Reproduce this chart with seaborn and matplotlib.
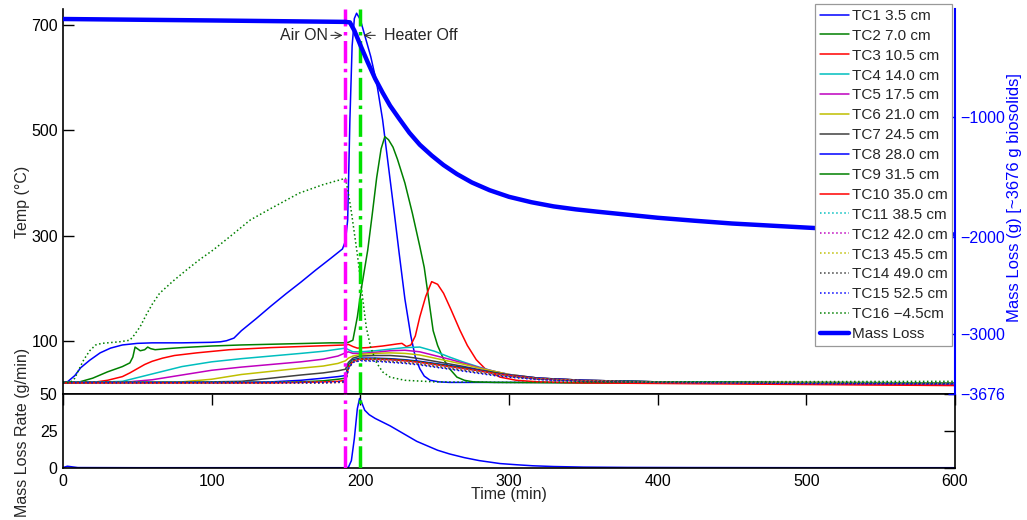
import matplotlib
matplotlib.use("Agg")
import numpy as np
import matplotlib.pyplot as plt
import seaborn as sns

# ---------------- data ----------------
# TC1 3.5 cm (blue, big spike right after air on)
tc1_time = [0, 3, 8, 12, 18, 25, 32, 40, 50, 60, 80, 100, 106, 110, 115, 120, 130, 140, 150, 160,
            170, 180, 188, 190, 191.5, 193, 194.5, 196, 197.5, 200, 203, 207, 211, 215, 219, 223,
            226, 230, 234, 237, 240, 243, 247, 253, 260, 280, 320, 400, 500, 600]
tc1_temp = [22, 23, 35, 50, 64, 78, 87, 93, 96, 97, 97, 98, 99, 101, 106, 120, 143, 167, 190, 212,
            235, 257, 275, 290, 330, 520, 660, 712, 722, 710, 680, 640, 590, 520, 430, 340,
            270, 180, 110, 70, 48, 34, 26, 23, 22, 22, 22, 21, 21, 21]

# TC2 7.0 cm (green)
tc2_time = [0, 10, 20, 30, 40, 45, 47, 48.5, 50, 52, 55, 57, 59, 62, 70, 80, 100, 120, 150, 180,
            190, 192, 195, 198, 201, 205, 208, 211, 214, 216.5, 219, 222, 225, 230, 235, 240, 243,
            246, 249, 252, 256, 260, 265, 270, 276, 290, 350, 450, 600]
tc2_temp = [22, 22, 30, 42, 52, 59, 70, 89, 86, 82, 84, 89, 86, 84, 86, 88, 91, 93, 95, 97,
            97, 98, 102, 146, 205, 273, 340, 410, 465, 488, 482, 468, 445, 400, 343, 280, 240,
            180, 120, 92, 66, 48, 32, 26, 23, 22, 21, 21, 21]

# TC3 10.5 cm (red, late peak)
tc3_time = [0, 20, 30, 40, 45, 50, 55, 60, 67, 75, 90, 112, 140, 170, 190, 192, 195, 198, 205, 215,
            225, 228, 231, 234, 237, 240, 244, 248, 252, 256, 261, 267, 272, 278, 285, 294, 305,
            320, 350, 450, 600]
tc3_temp = [21, 22, 26, 33, 40, 48, 56, 62, 68, 73, 78, 84, 88, 91, 93, 94, 90, 87, 88, 91,
            95, 96, 90, 93, 110, 146, 185, 213, 208, 191, 160, 121, 92, 65, 45, 32, 26,
            23, 21, 19, 16]

# TC16 -4.5 cm (green dotted)
tc16_time = [0, 5, 8, 11, 14, 18, 22, 26, 30, 38, 45, 48, 52, 56, 60, 65, 74, 83, 92, 101, 113,
             126, 140, 159, 175, 185, 190, 192, 194, 196, 198, 201, 204, 207, 211, 215, 220, 230,
             250, 300, 400, 600]
tc16_temp = [22, 22, 30, 48, 65, 82, 93, 96, 97, 99, 102, 112, 128, 150, 170, 191, 214, 235, 255,
             273, 300, 330, 352, 381, 397, 405, 409, 380, 345, 305, 265, 195, 127, 88, 59, 42, 32, 26,
             23, 22, 23, 24]

# shared time grid for the slower thermocouples
grid_time = [0, 20, 40, 60, 80, 100, 120, 140, 160, 175, 185, 190, 192, 195, 200, 210, 220, 230,
             240, 250, 260, 270, 280, 290, 300, 320, 350, 400, 500, 600]
tc4_temp = [22, 22, 24, 38, 52, 61, 67, 72, 77, 81, 85, 87, 84, 80, 80, 82, 85, 88, 89, 81, 70, 60,
            51, 43, 37, 30, 26, 23, 22, 21]
tc5_temp = [22, 22, 22, 27, 36, 45, 51, 56, 61, 66, 72, 78, 80, 77, 77, 79, 82, 83, 80, 73, 66, 58,
            50, 43, 37, 30, 26, 23, 22, 21]
tc6_temp = [22, 22, 22, 22, 23, 28, 37, 43, 49, 53, 58, 63, 68, 72, 75, 77, 78, 77, 74, 68, 62, 56,
            49, 43, 37, 30, 26, 23, 22, 21]
tc7_temp = [22, 22, 22, 22, 22, 23, 24, 30, 36, 40, 44, 47, 60, 68, 72, 73, 73, 71, 67, 62, 57, 52,
            46, 41, 36, 30, 26, 23, 21, 20]
tc8_temp = [22, 22, 22, 22, 22, 22, 22, 23, 26, 30, 33, 35, 55, 65, 68, 68, 67, 65, 62, 58, 54, 50,
            45, 40, 36, 30, 26, 23, 21, 20]
tc9_temp = [22, 22, 22, 22, 22, 22, 22, 22, 23, 25, 28, 30, 55, 64, 67, 67, 66, 64, 61, 57, 53, 49,
            44, 40, 35, 29, 25, 23, 21, 20]
tc10_temp = [21, 21, 21, 21, 21, 21, 21, 21, 22, 23, 24, 26, 50, 62, 66, 66, 65, 63, 60, 56, 52, 48,
             44, 39, 35, 29, 25, 22, 19, 17]
tc11_temp = [22, 22, 22, 22, 22, 22, 22, 22, 22, 22, 23, 24, 52, 63, 67, 66, 64, 62, 59, 55, 51, 47,
             43, 38, 34, 29, 25, 23, 21, 20]
tc12_temp = [21, 21, 21, 21, 21, 21, 21, 21, 21, 21, 22, 23, 50, 62, 66, 65, 63, 61, 58, 54, 50, 46,
             42, 38, 34, 28, 25, 22, 20, 18]
tc13_temp = [22, 22, 22, 22, 22, 22, 22, 22, 22, 22, 22, 23, 50, 61, 65, 64, 62, 60, 57, 53, 49, 45,
             41, 37, 33, 28, 25, 22, 21, 20]
tc14_temp = [21, 21, 21, 21, 21, 21, 21, 21, 21, 21, 22, 22, 48, 60, 64, 63, 61, 59, 56, 52, 48, 44,
             40, 36, 33, 28, 24, 22, 20, 19]
tc15_temp = [22, 22, 22, 22, 22, 22, 22, 22, 22, 22, 23, 24, 48, 60, 63, 62, 60, 58, 55, 51, 47, 43,
             39, 35, 32, 27, 24, 22, 20, 19]

# cumulative mass loss (right axis)
mass_time = [0, 100, 190, 193, 196, 200, 205, 210, 215, 220, 226, 233, 240, 248, 256, 265, 275,
             287, 300, 315, 330, 345, 360, 380, 400, 425, 450, 475, 500, 550, 600]
mass_loss = [20, 5, -10, -15, -100, -250, -430, -600, -745, -880, -1010, -1130, -1230, -1320, -1400,
             -1475, -1545, -1610, -1665, -1710, -1745, -1770, -1790, -1815, -1840, -1865, -1888,
             -1905, -1922, -1955, -1980]

# mass loss rate (lower panel)
rate_time = [0, 3, 6, 10, 50, 100, 150, 190, 192, 194, 196, 198, 199.5, 201, 203, 206, 210, 215, 220,
             226, 232, 238, 245, 252, 260, 270, 280, 294, 305, 316, 330, 350, 380, 420, 500, 600]
rate_vals = [0.3, 1.2, 0.8, 0.3, 0.2, 0.2, 0.2, 0.2, 0.5, 5, 20, 40, 47, 44, 39, 36, 33.5, 31, 28.5,
             25, 21.5, 18, 15, 12, 9.5, 7, 5, 3, 2.2, 1.5, 1.0, 0.6, 0.4, 0.3, 0.2, 0.2]

labels = ["TC1 3.5 cm", "TC2 7.0 cm", "TC3 10.5 cm", "TC4 14.0 cm", "TC5 17.5 cm", "TC6 21.0 cm",
          "TC7 24.5 cm", "TC8 28.0 cm", "TC9 31.5 cm", "TC10 35.0 cm", "TC11 38.5 cm",
          "TC12 42.0 cm", "TC13 45.5 cm", "TC14 49.0 cm", "TC15 52.5 cm", "TC16 \u22124.5cm"]
air_on, heater_off = 190, 200

# right axis tick spacing in the original is uneven -> piecewise scale through the ticks
mass_knots = [-5000, -3676, -3000, -2000, -1000, 0, 1000]
mass_frac = [-0.3, 0.0, 0.156, 0.408, 0.719, 0.969, 1.219]


def mass_fwd(v):
    return np.interp(v, mass_knots, mass_frac)


def mass_inv(f):
    return np.interp(f, mass_frac, mass_knots)


# ---------------- style ----------------
sns.set_style("white")
plt.rcParams["font.family"] = ["Liberation Sans", "DejaVu Sans"]
plt.rcParams["font.size"] = 11.5

colors = ["#0000FF", "#008000", "#FF0000", "#00BFBF", "#BF00BF", "#BFBF00", "#404040"]

series = [(tc1_time, tc1_temp), (tc2_time, tc2_temp), (tc3_time, tc3_temp),
          (grid_time, tc4_temp), (grid_time, tc5_temp), (grid_time, tc6_temp),
          (grid_time, tc7_temp), (grid_time, tc8_temp), (grid_time, tc9_temp),
          (grid_time, tc10_temp), (grid_time, tc11_temp), (grid_time, tc12_temp),
          (grid_time, tc13_temp), (grid_time, tc14_temp), (grid_time, tc15_temp),
          (tc16_time, tc16_temp)]

fig = plt.figure(figsize=(10.27, 5.2), dpi=100)
ax = fig.add_axes([0.0613, 0.2423, 0.8686, 0.7404])
axr = fig.add_axes([0.0613, 0.1, 0.8686, 0.1423])
ax2 = ax.twinx()

for i, (t, v) in enumerate(series):
    ls = "-" if i < 10 else ":"
    sns.lineplot(x=t, y=v, ax=ax, color=colors[i % 7], linestyle=ls, lw=1.1,
                 label=labels[i], legend=False)

ax2.set_yscale("function", functions=(mass_fwd, mass_inv))
sns.lineplot(x=mass_time, y=mass_loss, ax=ax2, color="#0000FF", lw=3.2,
             label="Mass Loss", legend=False)
sns.lineplot(x=rate_time, y=rate_vals, ax=axr, color="#0000FF", lw=1.1, legend=False)

for a in (ax, axr):
    a.axvline(air_on, color="#FF00FF", ls="-.", lw=2.5, zorder=4)
    a.axvline(heater_off, color="#00E000", ls="-.", lw=2.5, zorder=4)

# upper axes
ax.set_xlim(0, 600)
ax.set_ylim(0, 730)
ax.set_yticks([100, 300, 500, 700])
ax.set_xticks(range(0, 601, 100))
ax.tick_params(axis="both", direction="in", length=8, width=1, colors="black",
               labelbottom=False, labelsize=11.5)
ax.spines["top"].set_visible(False)
ax.spines["right"].set_visible(False)
for s in ("left", "bottom"):
    ax.spines[s].set_color("black")
    ax.spines[s].set_linewidth(1.2)
ax.set_ylabel("Temp (\u00b0C)", fontsize=11.5)
ax.yaxis.set_label_coords(-0.037, 0.5)

# right axis
ax2.set_ylim(-3676, 124)
ax2.set_yticks([-3676, -3000, -2000, -1000])
ax2.set_yticklabels(["\u22123676", "\u22123000", "\u22122000", "\u22121000"])
ax2.yaxis.set_minor_locator(matplotlib.ticker.NullLocator())
ax2.tick_params(axis="y", direction="in", length=5, width=1, colors="#0000FF",
                labelcolor="#0000FF", labelsize=11.5)
for s in ("left", "top", "bottom"):
    ax2.spines[s].set_visible(False)
ax2.spines["right"].set_color("#0000FF")
ax2.spines["right"].set_linewidth(1.5)
ax2.set_ylabel("Mass Loss (g) [~3676 g biosolids]", color="#0000FF", fontsize=12, rotation=90)
ax2.yaxis.set_label_coords(1.058, 0.51)

# lower axes
axr.set_xlim(0, 600)
axr.set_ylim(0, 50)
axr.set_yticks([0, 25, 50])
axr.set_xticks(range(0, 601, 100))
axr.tick_params(axis="both", which="both", direction="in", top=True, right=True,
                length=8, width=1, colors="black", labelsize=11.5, pad=4)
for s in axr.spines.values():
    s.set_color("black")
    s.set_linewidth(1.2)
axr.set_ylabel("Mass Loss Rate (g/min)", fontsize=11.5)
axr.yaxis.set_label_coords(-0.037, 0.48)
axr.set_xlabel("Time (min)", fontsize=11.5, labelpad=-1)

# annotations
ax.annotate("Air ON", xy=(189, 680), xytext=(178, 680), ha="right", va="center", fontsize=11.5,
            arrowprops=dict(arrowstyle="->", lw=0.8, color="#333333", shrinkA=0, shrinkB=1))
ax.annotate("Heater Off", xy=(201, 680), xytext=(216, 680), ha="left", va="center", fontsize=11.5,
            arrowprops=dict(arrowstyle="->", lw=0.8, color="#333333", shrinkA=4, shrinkB=1))

# legend (on the twin so it covers the mass-loss line)
h1, l1 = ax.get_legend_handles_labels()
h2, l2 = ax2.get_legend_handles_labels()
leg = ax2.legend(h1 + h2, l1 + l2, loc="upper right", bbox_to_anchor=(0.997, 1.012),
                 fontsize=11, frameon=True, fancybox=False, edgecolor="#999999", framealpha=1,
                 borderaxespad=0, labelspacing=0.385, handlelength=1.9, handletextpad=0.2,
                 borderpad=0.3)
leg.get_frame().set_linewidth(0.9)
leg.set_zorder(10)

fig.savefig("out.png", dpi=100)
